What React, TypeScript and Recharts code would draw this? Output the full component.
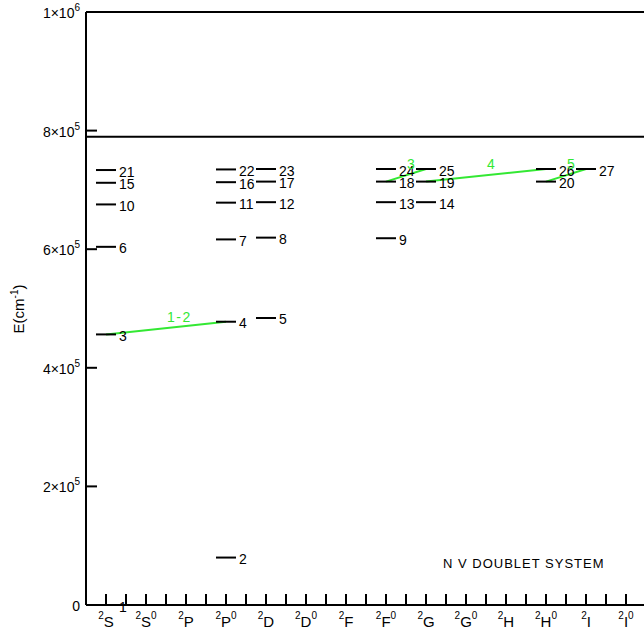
import React from "react";
import { ComposedChart, XAxis, YAxis, Scatter, ReferenceLine } from "recharts";

// term columns: 2S, 2S0, 2P, 2P0, ... 2I, 2I0
const TERMS = ["S", "P", "D", "F", "G", "H", "I"];
const COLUMNS = TERMS.flatMap((t) => [
  { term: t, odd: false },
  { term: t, odd: true },
]);

// level number, column index and energy (cm-1)
const LEVEL_IDS = [
  1, 2, 3, 4, 5, 6, 7, 8, 9, 10, 11, 12, 13, 14, 15, 16, 17, 18, 19, 20, 21, 22, 23, 24, 25, 26, 27,
];
const LEVEL_COLS = [
  0, 3, 0, 3, 4, 0, 3, 4, 7, 0, 3, 4, 7, 8, 0, 3, 4, 7, 8, 11, 0, 3, 4, 7, 8, 11, 12,
];
const LEVEL_E = [
  0, 80000, 456300, 477700, 484000, 604000, 616500, 619500, 618500, 675500, 678500, 679300,
  679300, 679300, 712000, 713000, 714000, 714000, 714000, 714000, 733500, 734500, 735200,
  735200, 735200, 735200, 735200,
];

// transitions: lower level, upper level, label
const TRANS_LOWER = [3, 18, 19, 20];
const TRANS_UPPER = [4, 25, 26, 27];
const TRANS_LABELS = ["1-2", "3", "4", "5"];

const ION_LIMIT = 789600;
const Y_TICKS = [0, 200000, 400000, 600000, 800000, 1000000];
const X_TICKS = COLUMNS.flatMap((_, i) => [i + 0.5, i + 1]);

const GREEN = "#33e833";
const FONT = "'Liberation Sans', Arial, sans-serif";
const TICK_LEN = 11;

const levels = LEVEL_IDS.map((id, i) => ({ id, x: LEVEL_COLS[i] + 0.5, y: LEVEL_E[i] }));
const findLevel = (id: number) => levels.find((l) => l.id === id)!;
const transitions = TRANS_LABELS.map((label, i) => {
  const a = findLevel(TRANS_LOWER[i]);
  const b = findLevel(TRANS_UPPER[i]);
  return { label, a, b, x: (a.x + b.x) / 2, y: (a.y + b.y) / 2 };
});

function LevelMark(props: any) {
  const { cx, cy, payload } = props;
  return (
    <g>
      <line x1={cx - 10} x2={cx + 10} y1={cy} y2={cy} stroke="#000" strokeWidth={2} />
      <text x={cx + 13} y={cy + 6.5} fontSize={14} fontFamily={FONT} fill="#000">
        {payload.id}
      </text>
    </g>
  );
}

function TransLabel(props: any) {
  const { cx, cy, payload } = props;
  return (
    <text x={cx + 1} y={cy - 6} fontSize={14} letterSpacing={1.5} fontFamily={FONT} fill={GREEN}>
      {payload.label}
    </text>
  );
}

function BottomTick(props: any) {
  const { x, y, payload } = props;
  const col = payload.value - 0.5;
  const c = Number.isInteger(col) ? COLUMNS[col] : null;
  return (
    <g>
      <line x1={x} x2={x} y1={y} y2={y - TICK_LEN} stroke="#000" strokeWidth={2} />
      {c && (
        <text x={x} y={y + 22} textAnchor="middle" fontFamily={FONT} fill="#000">
          <tspan fontSize={10} dy={-8}>2</tspan>
          <tspan fontSize={15} dy={8}>{c.term}</tspan>
          {c.odd && (
            <tspan fontSize={10} dy={-8}>0</tspan>
          )}
        </text>
      )}
    </g>
  );
}

function TopTick(props: any) {
  const { x, y } = props;
  return <line x1={x} x2={x} y1={y} y2={y + TICK_LEN} stroke="#000" strokeWidth={2} />;
}

function LeftTick(props: any) {
  const { x, y, payload } = props;
  const v = payload.value;
  let content: React.ReactNode = "0";
  if (v !== 0) {
    const exp = Math.floor(Math.log10(v));
    const m = Math.round(v / Math.pow(10, exp));
    content = (
      <>
        {`${m}×10`}
        <tspan fontSize={10} dy={-7}>{exp}</tspan>
      </>
    );
  }
  return (
    <g>
      <line x1={x} x2={x + TICK_LEN} y1={y} y2={y} stroke="#000" strokeWidth={2} />
      <text x={x - 6} y={y + 6} textAnchor="end" fontSize={14} fontFamily={FONT} fill="#000">
        {content}
      </text>
    </g>
  );
}

function RightTick(props: any) {
  const { x, y } = props;
  return <line x1={x} x2={x - 10} y1={y} y2={y} stroke="#000" strokeWidth={2} />;
}

export default function App() {
  return (
    <div style={{ position: "absolute", left: 0, top: 0, width: 644, height: 631, background: "#fff" }}>
      <ComposedChart width={644} height={631} margin={{ top: 0, right: -2, bottom: 0, left: 0 }}>
        <XAxis
          xAxisId="b"
          type="number"
          dataKey="x"
          domain={[0, 14]}
          ticks={X_TICKS}
          interval={0}
          orientation="bottom"
          height={26}
          tickSize={0}
          tickMargin={0}
          tickLine={false}
          axisLine={{ stroke: "#000", strokeWidth: 2 }}
          tick={<BottomTick />}
        />
        <XAxis
          xAxisId="t"
          type="number"
          domain={[0, 14]}
          ticks={X_TICKS}
          interval={0}
          orientation="top"
          height={12}
          tickSize={0}
          tickMargin={0}
          tickLine={false}
          axisLine={{ stroke: "#000", strokeWidth: 2 }}
          tick={<TopTick />}
          allowDataOverflow
        />
        <YAxis
          yAxisId="l"
          type="number"
          dataKey="y"
          domain={[0, 1000000]}
          ticks={Y_TICKS}
          interval={0}
          width={86}
          tickSize={0}
          tickMargin={0}
          tickLine={false}
          axisLine={{ stroke: "#000", strokeWidth: 2 }}
          tick={<LeftTick />}
        />
        <YAxis
          yAxisId="r"
          orientation="right"
          type="number"
          domain={[0, 1000000]}
          ticks={Y_TICKS}
          interval={0}
          width={0}
          tickSize={0}
          tickMargin={0}
          tickLine={false}
          axisLine={false}
          tick={<RightTick />}
          allowDataOverflow
        />
        <ReferenceLine xAxisId="b" yAxisId="l" y={ION_LIMIT} stroke="#000" strokeWidth={2} />
        <Scatter
          xAxisId="b"
          yAxisId="l"
          data={levels}
          shape={(p: any) => <LevelMark {...p} />}
          isAnimationActive={false}
        />
        {transitions.map((t) => (
          <ReferenceLine
            key={t.label}
            xAxisId="b"
            yAxisId="l"
            segment={[
              { x: t.a.x, y: t.a.y },
              { x: t.b.x, y: t.b.y },
            ]}
            stroke={GREEN}
            strokeWidth={2}
          />
        ))}
        <Scatter
          xAxisId="b"
          yAxisId="l"
          data={transitions}
          shape={(p: any) => <TransLabel {...p} />}
          isAnimationActive={false}
        />
      </ComposedChart>
      <svg
        width={644}
        height={631}
        style={{ position: "absolute", left: 0, top: 0, pointerEvents: "none" }}
      >
        <text
          transform="translate(24,309) rotate(-90)"
          textAnchor="middle"
          fontSize={15}
          fontFamily={FONT}
          fill="#000"
        >
          E(cm<tspan fontSize={10} dy={-6}>-1</tspan>
          <tspan dy={6}>)</tspan>
        </text>
        <text x={443} y={568} fontSize={13} letterSpacing={1} fontFamily={FONT} fill="#000">
          N V DOUBLET SYSTEM
        </text>
      </svg>
    </div>
  );
}
